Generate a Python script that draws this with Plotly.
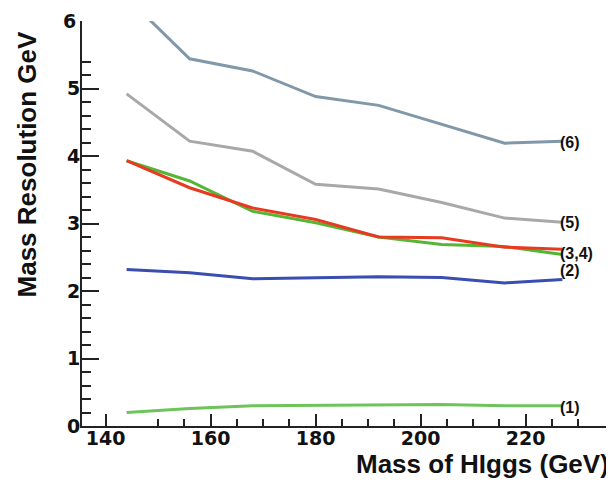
import plotly.graph_objects as go

mass = [144, 156, 168, 180, 192, 204, 216, 227]
res_1 = [0.20, 0.26, 0.30, 0.31, 0.32, 0.32, 0.30, 0.30]
res_2 = [2.32, 2.27, 2.18, 2.19, 2.21, 2.20, 2.12, 2.17]
res_3 = [3.93, 3.63, 3.18, 3.01, 2.80, 2.69, 2.66, 2.54]
res_4 = [3.93, 3.53, 3.23, 3.06, 2.80, 2.79, 2.65, 2.62]
res_5 = [4.92, 4.22, 4.07, 3.58, 3.51, 3.31, 3.08, 3.02]
res_6 = [6.35, 5.44, 5.26, 4.88, 4.75, 4.47, 4.19, 4.22]

series = [
    (res_6, "#8098a8"),
    (res_5, "#a8a8a8"),
    (res_3, "#55b535"),
    (res_4, "#e83a20"),
    (res_2, "#3a4db0"),
    (res_1, "#6cc45a"),
]

end_labels = ["(6)", "(5)", "(3,4)", "(2)", "(1)"]
end_label_y = [4.20, 3.02, 2.56, 2.30, 0.28]

x_major = [140, 160, 180, 200, 220]
x_minor = [150, 155, 165, 170, 175, 185, 190, 195, 205, 210, 215, 225, 230]
y_major = [0, 1, 2, 3, 4, 5]
y_minor = [0.2, 0.4, 0.6, 0.8, 1.2, 1.4, 1.6, 1.8, 2.2, 2.4, 2.6, 2.8,
           3.2, 3.4, 3.6, 3.8, 4.2, 4.4, 4.6, 4.8, 5.2, 5.4]

FONT = "Liberation Sans, Arial, Helvetica, sans-serif"
TICKFONT = "DejaVu Sans, sans-serif"
AX = "#222222"

fig = go.Figure()
for vals, col in series:
    fig.add_trace(go.Scatter(x=mass, y=vals, mode="lines",
                             line=dict(color=col, width=3), showlegend=False,
                             hoverinfo="skip"))

for lab, yv in zip(end_labels, end_label_y):
    fig.add_annotation(x=226.4, y=yv, xref="x", yref="y", text="<b>" + lab + "</b>",
                       showarrow=False, xanchor="left", yanchor="middle", borderpad=0,
                       font=dict(family=FONT, size=16, color="#111"))

# y tick label "6" (no major tick drawn at the top)
fig.add_annotation(x=-0.008, y=6, xref="paper", yref="y", text="<b>6</b>",
                   showarrow=False, xanchor="right", yanchor="middle",
                   font=dict(family=TICKFONT, size=19, color="#111"))

fig.add_annotation(x=-0.104, y=0.646, xref="paper", yref="paper",
                   text="<b>Mass Resolution GeV</b>", textangle=-90, showarrow=False,
                   xanchor="center", yanchor="middle",
                   font=dict(family=FONT, size=26, color="#111"))
fig.add_annotation(x=1.0, y=-0.093, xref="paper", yref="paper",
                   text="<b>Mass of HIggs (GeV)</b>", showarrow=False,
                   xanchor="right", yanchor="middle", borderpad=0,
                   font=dict(family=FONT, size=26, color="#111"))

fig.add_shape(type="line", xref="paper", yref="paper", x0=1, x1=1, y0=0, y1=1,
              line=dict(color=AX, width=2))

fig.update_xaxes(range=[135.5, 236.06], showgrid=False, zeroline=False,
                 showline=True, linecolor=AX, linewidth=2,
                 tickmode="array", tickvals=x_major,
                 ticks="inside", ticklen=12, tickwidth=2, tickcolor=AX,
                 ticklabelstandoff=-6,
                 tickfont=dict(family=TICKFONT, size=19, color="#111", weight="bold"),
                 minor=dict(tickmode="array", tickvals=x_minor, ticks="inside",
                            ticklen=7, tickwidth=2, tickcolor=AX, showgrid=False))
fig.update_yaxes(range=[0, 6], showgrid=False, zeroline=False,
                 showline=True, linecolor=AX, linewidth=2,
                 tickmode="array", tickvals=y_major,
                 ticks="inside", ticklen=17, tickwidth=2, tickcolor=AX,
                 ticklabelstandoff=-4,
                 tickfont=dict(family=TICKFONT, size=19, color="#111", weight="bold"),
                 minor=dict(tickmode="array", tickvals=y_minor, ticks="inside",
                            ticklen=9, tickwidth=2, tickcolor=AX, showgrid=False))

# page body has an 8px default margin, so the figure is offset by 8px
fig.update_layout(width=606, height=479, plot_bgcolor="white", paper_bgcolor="white",
                  margin=dict(l=74, r=4, t=13, b=61), showlegend=False)

fig.write_html("out.html")
